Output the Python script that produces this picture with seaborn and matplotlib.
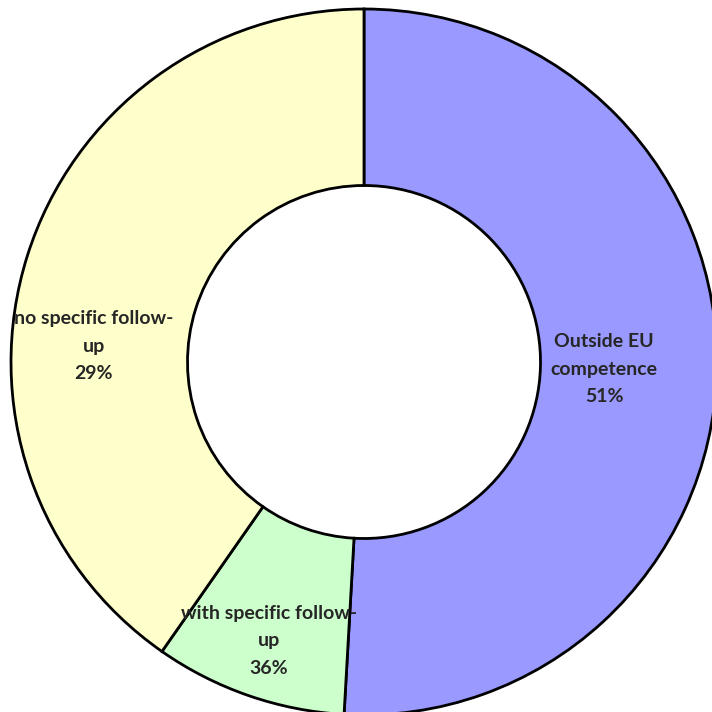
import matplotlib
matplotlib.use("Agg")
import matplotlib.pyplot as plt
import seaborn as sns

# Data
categories = ["Outside EU\ncompetence", "with specific follow-\nup", "no specific follow-\nup"]
slice_values = [50.9, 8.8, 40.3]          # angular share of each ring segment
label_percents = ["51%", "36%", "29%"]    # percentages printed on the chart
colors = ["#9999FF", "#CCFFCC", "#FFFFCC"]

sns.set_theme(style="white")
plt.rcParams["font.family"] = ["Lato", "DejaVu Sans"]

fig = plt.figure(figsize=(7.12, 7.12), dpi=100)
ax = fig.add_axes([0, 0, 1, 1])

wedges, _ = ax.pie(
    slice_values,
    colors=colors,
    startangle=90,
    counterclock=False,
    radius=1.0,
    wedgeprops=dict(width=0.5, edgecolor="black", linewidth=2.0),
)

label_pos = [(0.68, -0.02), (-0.27, -0.79), (-0.765, 0.045)]
for cat, pct, (x, y) in zip(categories, label_percents, label_pos):
    ax.text(x, y, f"{cat}\n{pct}", ha="center", va="center", fontsize=14,
            fontweight="bold", color="#262626", linespacing=1.75)

ax.set_xlim(-364 / 353, (712 - 364) / 353)
ax.set_ylim(-(712 - 362) / 353, 362 / 353)
ax.set_aspect("equal")
ax.axis("off")

fig.savefig("out.png", dpi=100, facecolor="white")
